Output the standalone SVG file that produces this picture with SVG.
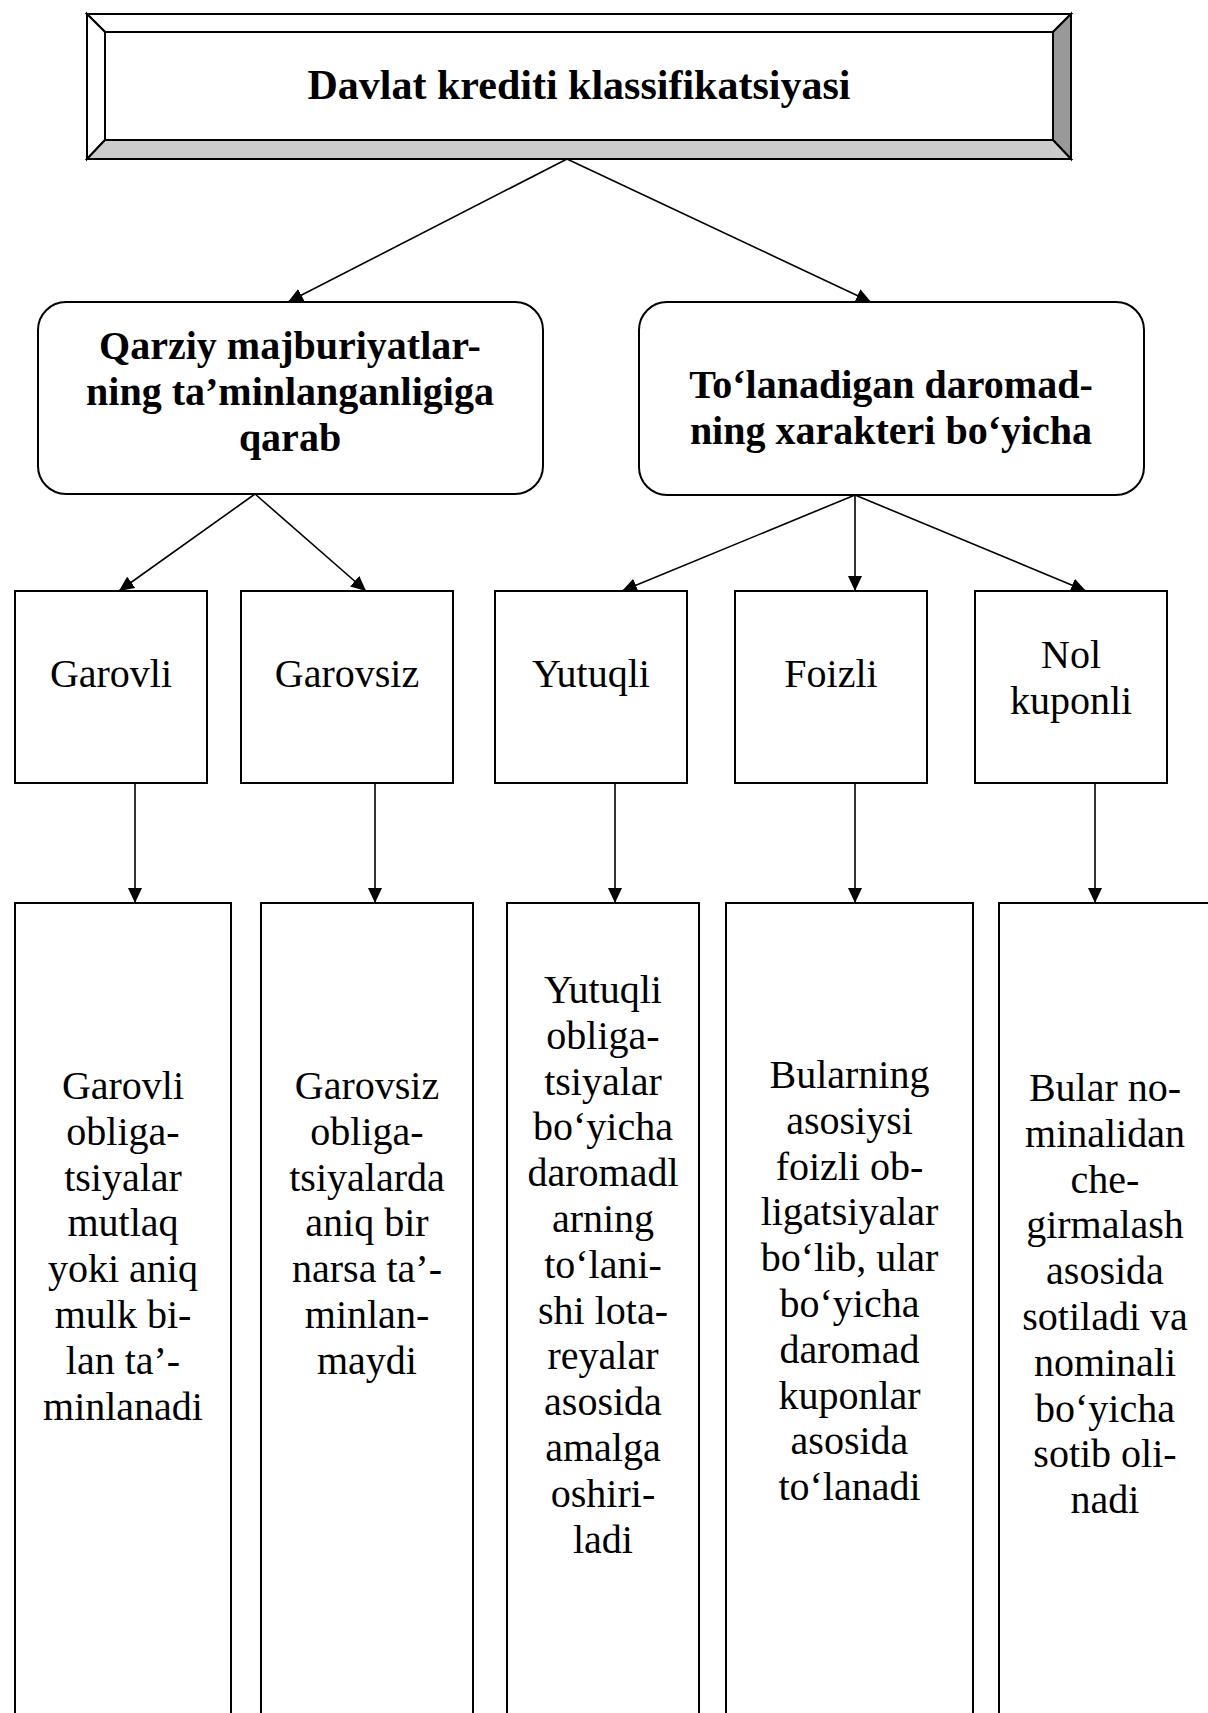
<svg xmlns="http://www.w3.org/2000/svg" width="1208" height="1713" viewBox="0 0 1208 1713">
<style>
.box{fill:#fff;stroke:#000;stroke-width:2}
.bev{stroke:#000;stroke-width:2;stroke-linejoin:miter}
.t{font-family:"Liberation Serif","Times New Roman",serif;font-size:40px;fill:#000;text-anchor:middle}
.b{font-weight:bold}
.title{font-family:"Liberation Serif","Times New Roman",serif;font-size:42px;font-weight:bold;text-anchor:middle}
.c{stroke:#000;stroke-width:1.6;fill:none;marker-end:url(#ah)}
</style>
<defs>
<marker id="ah" markerWidth="15" markerHeight="14" refX="15" refY="7" orient="auto" markerUnits="userSpaceOnUse"><path d="M0,0 L15,7 L0,14 z" fill="#000"/></marker>
</defs>
<rect width="1208" height="1713" fill="#fff"/>
<g id="title">
<polygon class="bev" fill="#fff" points="87,14 1071,14 1053,32 105,32"/>
<polygon class="bev" fill="#fff" points="87,14 105,32 105,140 87,159"/>
<polygon class="bev" fill="#999" points="1071,14 1071,159 1053,140 1053,32"/>
<polygon class="bev" fill="#ccc" points="87,159 1071,159 1053,140 105,140"/>
<rect class="box" x="105" y="32" width="948" height="108"/>
<text class="title" x="579" y="99">Davlat krediti klassifikatsiyasi</text>
</g>
<g id="cat1">
<rect class="box" x="38" y="302" width="505" height="192" rx="28" ry="28"/>
<text class="t b" x="290" y="359">Qarziy majburiyatlar-</text>
<text class="t b" x="290" y="405">ning ta’minlanganligiga</text>
<text class="t b" x="290" y="451">qarab</text>
</g>
<g id="cat2">
<rect class="box" x="639" y="302" width="505" height="193" rx="28" ry="28"/>
<text class="t b" x="891" y="398">To‘lanadigan daromad-</text>
<text class="t b" x="891" y="444">ning xarakteri bo‘yicha</text>
</g>
<g id="garovli"><rect class="box" x="15" y="591" width="192" height="192"/><text class="t" x="111" y="687">Garovli</text></g>
<g id="garovsiz"><rect class="box" x="241" y="591" width="212" height="192"/><text class="t" x="347" y="687">Garovsiz</text></g>
<g id="yutuqli"><rect class="box" x="495" y="591" width="192" height="192"/><text class="t" x="591" y="687">Yutuqli</text></g>
<g id="foizli"><rect class="box" x="735" y="591" width="192" height="192"/><text class="t" x="831" y="687">Foizli</text></g>
<g id="nol"><rect class="box" x="975" y="591" width="192" height="192"/><text class="t" x="1071" y="668">Nol</text><text class="t" x="1071" y="714">kuponli</text></g>
<g id="d1"><rect class="box" x="15" y="903" width="216" height="830"/>
<text class="t" y="1099"><tspan x="123">Garovli</tspan><tspan x="123" dy="45.8">obliga-</tspan><tspan x="123" dy="45.8">tsiyalar</tspan><tspan x="123" dy="45.8">mutlaq</tspan><tspan x="123" dy="45.8">yoki aniq</tspan><tspan x="123" dy="45.8">mulk bi-</tspan><tspan x="123" dy="45.8">lan ta’-</tspan><tspan x="123" dy="45.8">minlanadi</tspan></text></g>
<g id="d2"><rect class="box" x="261" y="903" width="212" height="830"/>
<text class="t" y="1099"><tspan x="367">Garovsiz</tspan><tspan x="367" dy="45.8">obliga-</tspan><tspan x="367" dy="45.8">tsiyalarda</tspan><tspan x="367" dy="45.8">aniq bir</tspan><tspan x="367" dy="45.8">narsa ta’-</tspan><tspan x="367" dy="45.8">minlan-</tspan><tspan x="367" dy="45.8">maydi</tspan></text></g>
<g id="d3"><rect class="box" x="507" y="903" width="192" height="830"/>
<text class="t" y="1003"><tspan x="603">Yutuqli</tspan><tspan x="603" dy="45.8">obliga-</tspan><tspan x="603" dy="45.8">tsiyalar</tspan><tspan x="603" dy="45.8">bo‘yicha</tspan><tspan x="603" dy="45.8">daromadl</tspan><tspan x="603" dy="45.8">arning</tspan><tspan x="603" dy="45.8">to‘lani-</tspan><tspan x="603" dy="45.8">shi lota-</tspan><tspan x="603" dy="45.8">reyalar</tspan><tspan x="603" dy="45.8">asosida</tspan><tspan x="603" dy="45.8">amalga</tspan><tspan x="603" dy="45.8">oshiri-</tspan><tspan x="603" dy="45.8">ladi</tspan></text></g>
<g id="d4"><rect class="box" x="726" y="903" width="247" height="830"/>
<text class="t" y="1088"><tspan x="849.5">Bularning</tspan><tspan x="849.5" dy="45.8">asosiysi</tspan><tspan x="849.5" dy="45.8">foizli ob-</tspan><tspan x="849.5" dy="45.8">ligatsiyalar</tspan><tspan x="849.5" dy="45.8">bo‘lib, ular</tspan><tspan x="849.5" dy="45.8">bo‘yicha</tspan><tspan x="849.5" dy="45.8">daromad</tspan><tspan x="849.5" dy="45.8">kuponlar</tspan><tspan x="849.5" dy="45.8">asosida</tspan><tspan x="849.5" dy="45.8">to‘lanadi</tspan></text></g>
<g id="d5"><rect class="box" x="999" y="903" width="220" height="830"/>
<text class="t" y="1101"><tspan x="1105">Bular no-</tspan><tspan x="1105" dy="45.8">minalidan</tspan><tspan x="1105" dy="45.8">che-</tspan><tspan x="1105" dy="45.8">girmalash</tspan><tspan x="1105" dy="45.8">asosida</tspan><tspan x="1105" dy="45.8">sotiladi va</tspan><tspan x="1105" dy="45.8">nominali</tspan><tspan x="1105" dy="45.8">bo‘yicha</tspan><tspan x="1105" dy="45.8">sotib oli-</tspan><tspan x="1105" dy="45.8">nadi</tspan></text></g>
<g id="connectors">
<line class="c" x1="567" y1="159" x2="288" y2="302"/>
<line class="c" x1="567" y1="159" x2="871" y2="302"/>
<line class="c" x1="255" y1="494" x2="119" y2="591"/>
<line class="c" x1="255" y1="494" x2="366" y2="591"/>
<line class="c" x1="855" y1="495" x2="622" y2="591"/>
<line class="c" x1="855" y1="495" x2="855" y2="591"/>
<line class="c" x1="855" y1="495" x2="1086" y2="591"/>
<line class="c" x1="135" y1="783" x2="135" y2="903"/>
<line class="c" x1="375" y1="783" x2="375" y2="903"/>
<line class="c" x1="615" y1="783" x2="615" y2="903"/>
<line class="c" x1="855" y1="783" x2="855" y2="903"/>
<line class="c" x1="1095" y1="783" x2="1095" y2="903"/>
</g>
</svg>
